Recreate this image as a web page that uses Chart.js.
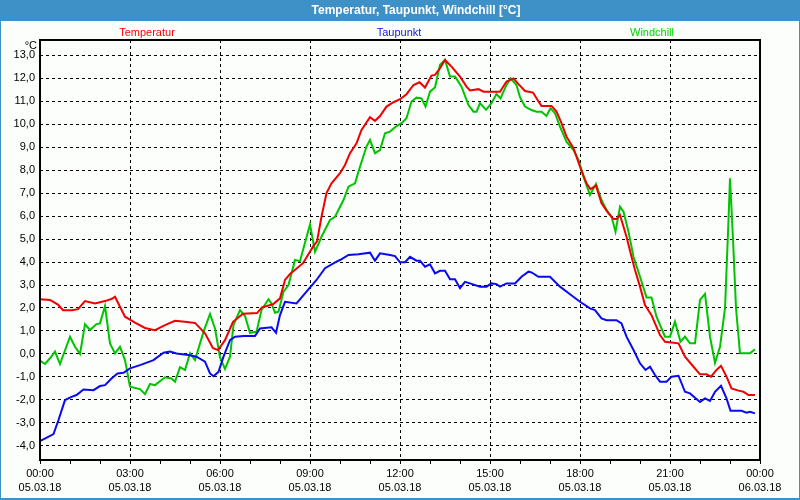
<!DOCTYPE html>
<html>
<head>
<meta charset="utf-8">
<script src="https://cdn.jsdelivr.net/npm/chart.js@4"></script>
<style>
  html, body { margin: 0; padding: 0; background: #3d91c6; }
  #wrap { width: 800px; height: 500px; }
</style>
</head>
<body>
<div id="wrap"><canvas id="chart" width="800" height="500"></canvas></div>
<script>
// minutes since 05.03.18 00:00
const tempMinutes = [0, 20, 36, 46, 64, 76, 90, 110, 130, 144, 150, 170, 190, 210, 230, 250, 270, 290, 310, 330, 346, 356, 370, 386, 406, 434, 444, 466, 480, 490, 500, 526, 546, 554, 563, 573, 583, 600, 610, 620, 633, 643, 660, 670, 680, 693, 707, 720, 733, 747, 759, 770, 783, 790, 800, 810, 823, 840, 853, 860, 877, 887, 920, 933, 947, 957, 970, 986, 997, 1003, 1023, 1033, 1043, 1053, 1067, 1080, 1093, 1101, 1112, 1123, 1137, 1147, 1153, 1160, 1173, 1183, 1190, 1200, 1210, 1223, 1240, 1250, 1277, 1290, 1307, 1320, 1333, 1342, 1353, 1362, 1373, 1383, 1397, 1407, 1417, 1430];
const tempValues = [2.38, 2.35, 2.15, 1.9, 1.9, 1.95, 2.3, 2.2, 2.3, 2.4, 2.49, 1.62, 1.36, 1.13, 1.03, 1.25, 1.44, 1.4, 1.35, 0.9, 0.25, 0.17, 0.6, 1.4, 1.75, 1.78, 2.03, 2.16, 2.42, 3.22, 3.48, 3.95, 4.67, 4.9, 5.97, 7.0, 7.43, 7.87, 8.23, 8.74, 9.17, 9.75, 10.31, 10.15, 10.36, 10.77, 10.96, 11.09, 11.31, 11.71, 11.83, 11.6, 12.12, 12.15, 12.44, 12.8, 12.51, 12.08, 11.64, 11.47, 11.53, 11.42, 11.42, 11.86, 12.0, 11.75, 11.45, 11.38, 10.99, 10.8, 10.8, 10.55, 10.05, 9.46, 8.96, 8.15, 7.43, 7.18, 7.33, 6.56, 6.12, 5.87, 5.87, 6.05, 5.1, 4.23, 3.65, 2.93, 2.13, 1.69, 0.82, 0.53, 0.46, -0.12, -0.56, -0.89, -0.89, -0.99, -0.7, -0.52, -0.99, -1.5, -1.6, -1.65, -1.79, -1.79];

const dewMinutes = [0, 27, 37, 50, 63, 73, 87, 107, 120, 130, 143, 155, 167, 180, 200, 227, 247, 260, 273, 297, 313, 330, 340, 347, 357, 367, 380, 390, 407, 430, 440, 463, 472, 480, 490, 513, 533, 553, 570, 593, 600, 617, 637, 660, 670, 680, 700, 710, 720, 730, 740, 753, 760, 770, 780, 790, 800, 810, 820, 830, 840, 850, 860, 880, 893, 903, 913, 920, 933, 950, 963, 977, 983, 997, 1020, 1040, 1060, 1080, 1100, 1110, 1123, 1133, 1153, 1163, 1173, 1187, 1200, 1211, 1220, 1230, 1240, 1253, 1263, 1277, 1290, 1300, 1320, 1330, 1340, 1350, 1362, 1373, 1381, 1403, 1413, 1420, 1430];
const dewValues = [-3.8, -3.49, -2.88, -2.01, -1.87, -1.79, -1.55, -1.58, -1.4, -1.36, -1.07, -0.85, -0.82, -0.63, -0.49, -0.27, 0.05, 0.1, 0.02, -0.05, -0.12, -0.34, -0.85, -0.97, -0.78, -0.12, 0.6, 0.75, 0.78, 0.78, 1.11, 1.16, 0.92, 1.69, 2.27, 2.2, 2.71, 3.22, 3.73, 4.02, 4.09, 4.31, 4.34, 4.41, 4.06, 4.38, 4.31, 4.26, 3.99, 3.99, 4.23, 4.06, 4.06, 3.8, 3.9, 3.51, 3.62, 3.62, 3.25, 3.25, 2.86, 3.14, 3.07, 2.93, 2.93, 3.07, 3.04, 2.93, 3.07, 3.07, 3.36, 3.58, 3.55, 3.36, 3.36, 2.93, 2.6, 2.27, 1.98, 1.91, 1.55, 1.47, 1.47, 1.33, 0.75, 0.17, -0.41, -0.7, -0.56, -0.92, -1.21, -1.21, -0.99, -0.95, -1.65, -1.72, -2.09, -1.94, -2.05, -1.65, -1.39, -1.94, -2.48, -2.48, -2.56, -2.52, -2.59];

const chillMinutes = [0, 10, 20, 30, 40, 60, 70, 80, 90, 100, 113, 120, 130, 140, 150, 160, 170, 180, 200, 210, 220, 230, 250, 263, 270, 280, 290, 300, 310, 327, 340, 350, 360, 370, 380, 387, 400, 410, 420, 433, 443, 457, 463, 470, 477, 487, 497, 510, 520, 540, 550, 563, 580, 590, 607, 617, 630, 640, 653, 660, 670, 680, 690, 700, 710, 723, 733, 743, 753, 763, 771, 780, 790, 800, 810, 820, 830, 843, 857, 867, 873, 880, 892, 903, 913, 921, 932, 941, 953, 960, 970, 983, 993, 1003, 1013, 1021, 1030, 1040, 1053, 1067, 1077, 1087, 1100, 1112, 1123, 1133, 1143, 1151, 1160, 1167, 1177, 1187, 1200, 1213, 1223, 1233, 1250, 1260, 1270, 1281, 1290, 1300, 1310, 1320, 1330, 1340, 1350, 1360, 1370, 1377, 1380, 1386, 1392, 1400, 1420, 1430];
const chillValues = [-0.29, -0.44, -0.19, 0.1, -0.44, 0.75, 0.31, 0.0, 1.29, 1.04, 1.3, 1.33, 2.08, 0.46, 0.02, 0.31, -0.27, -1.43, -1.53, -1.75, -1.31, -1.36, -1.02, -1.07, -1.21, -0.58, -0.7, 0.03, -0.27, 0.96, 1.74, 1.11, -0.15, -0.65, -0.12, 1.26, 1.91, 1.65, 0.92, 0.96, 1.91, 2.38, 2.2, 1.79, 1.84, 2.71, 3.0, 4.09, 4.04, 5.64, 4.45, 5.1, 5.83, 5.97, 6.7, 7.28, 7.43, 8.15, 9.03, 9.32, 8.74, 8.88, 9.61, 9.68, 9.87, 10.05, 10.26, 10.99, 11.16, 11.13, 10.77, 11.42, 11.6, 12.59, 12.8, 12.08, 12.08, 11.64, 10.84, 10.55, 10.55, 10.92, 10.63, 10.92, 11.32, 11.13, 11.67, 12.0, 11.71, 11.18, 10.77, 10.62, 10.55, 10.55, 10.36, 10.7, 10.48, 9.9, 9.24, 8.88, 8.45, 7.72, 6.92, 7.4, 6.7, 6.27, 5.98, 5.32, 6.41, 6.19, 5.32, 4.23, 3.36, 2.46, 2.46, 1.62, 0.75, 0.75, 1.4, 0.53, 0.75, 0.46, 0.46, 2.35, 2.61, 0.75, -0.39, 0.31, 1.98, 5.83, 7.65, 5.0, 2.0, 0.03, 0.03, 0.2];

const yTickValues = [-4, -3, -2, -1, 0, 1, 2, 3, 4, 5, 6, 7, 8, 9, 10, 11, 12, 13];
const timeLabels = ['00:00', '03:00', '06:00', '09:00', '12:00', '15:00', '18:00', '21:00', '00:00'];
const dateLabels = ['05.03.18', '05.03.18', '05.03.18', '05.03.18', '05.03.18', '05.03.18', '05.03.18', '05.03.18', '06.03.18'];

const toPoints = (xs, ys) => xs.map((x, i) => ({ x: x, y: ys[i] }));

const frame = {
    id: 'frame',
    beforeDraw(chart) {
        const c = chart.ctx;
        c.save();
        c.fillStyle = '#3d91c6';
        c.fillRect(0, 0, 800, 500);
        c.fillStyle = '#fbfefb';
        c.fillRect(1, 21, 798, 477);
        c.fillStyle = '#ffffff';
        c.font = 'bold 12px "Liberation Sans", sans-serif';
        c.textAlign = 'center';
        c.textBaseline = 'middle';
        c.fillText('Temperatur, Taupunkt, Windchill [°C]', 416, 11);
        c.font = '11px "Liberation Sans", sans-serif';
        c.fillStyle = '#ff0000';
        c.fillText('Temperatur', 147, 33);
        c.fillStyle = '#1414e6';
        c.fillText('Taupunkt', 399, 33);
        c.fillStyle = '#00d200';
        c.fillText('Windchill', 652, 33);
        c.fillStyle = '#000000';
        c.textAlign = 'right';
        c.fillText('°C', 37, 46);
        c.restore();
    },
    afterDraw(chart) {
        const a = chart.chartArea;
        const c = chart.ctx;
        c.save();
        c.strokeStyle = '#000';
        c.lineWidth = 2;
        c.strokeRect(a.left, a.top, a.right - a.left, a.bottom - a.top);
        c.restore();
    }
};

new Chart(document.getElementById('chart'), {
    type: 'line',
    data: {
        datasets: [
            { label: 'Temperatur', data: toPoints(tempMinutes, tempValues), borderColor: '#f00000', borderWidth: 2 },
            { label: 'Taupunkt', data: toPoints(dewMinutes, dewValues), borderColor: '#0a0af0', borderWidth: 2 },
            { label: 'Windchill', data: toPoints(chillMinutes, chillValues), borderColor: '#00c400', borderWidth: 2 }
        ]
    },
    options: {
        responsive: false,
        animation: false,
        devicePixelRatio: 1,
        elements: { point: { radius: 0 }, line: { tension: 0 } },
        layout: { padding: { left: 0, top: 40, right: 40, bottom: 0 } },
        plugins: { legend: { display: false }, title: { display: false }, tooltip: { enabled: false } },
        scales: {
            x: {
                type: 'linear',
                min: 0,
                max: 1440,
                afterBuildTicks: (s) => {
                    const t = [];
                    for (let m = 0; m <= 1440; m += 60) t.push({ value: m });
                    s.ticks = t;
                },
                afterFit: (s) => { s.height = 40; },
                // in v4 the grid line dash lives under border
                border: { display: false, dash: [3, 3] },
                grid: {
                    color: (ctx) => (ctx.tick && ctx.tick.value % 180 === 0) ? '#000' : 'rgba(0,0,0,0)',
                    tickColor: '#000',
                    tickLength: 4,
                    tickBorderDash: [],
                    lineWidth: 1
                },
                ticks: {
                    autoSkip: false,
                    maxRotation: 0,
                    padding: 3,
                    color: '#000',
                    font: { family: 'Liberation Sans', size: 11, lineHeight: 1.3 },
                    callback: (v) => v % 180 === 0 ? [timeLabels[v / 180], dateLabels[v / 180]] : ''
                }
            },
            y: {
                min: -4.62,
                max: 13.67,
                afterBuildTicks: (s) => { s.ticks = yTickValues.map(v => ({ value: v })); },
                afterFit: (s) => { s.width = 40; },
                border: { display: false, dash: [3, 3] },
                grid: { color: '#000', drawTicks: false, lineWidth: 1 },
                ticks: {
                    padding: 5,
                    color: '#000',
                    font: { family: 'Liberation Sans', size: 11 },
                    callback: (v) => v.toFixed(1).replace('.', ',')
                }
            }
        }
    },
    plugins: [frame]
});
</script>
</body>
</html>
